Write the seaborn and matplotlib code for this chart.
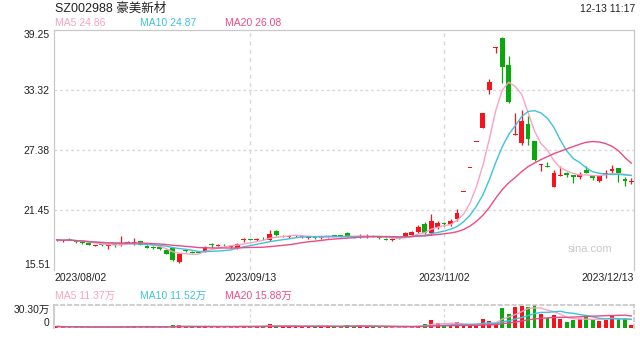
import matplotlib
matplotlib.use('Agg')
import matplotlib.pyplot as plt
import matplotlib.transforms as mtrans
import seaborn as sns
import numpy as np
import pandas as pd

# ---------------- data ----------------
opens = [18.45, 18.36, 18.56, 18.32, 18.26, 18.15, 17.93, 18.06, 17.88, 18.05,
         17.95, 18.25, 18.18, 18.35, 17.88, 17.78, 17.75, 17.50, 17.68, 16.35,
         17.42, 17.28, 17.28, 17.39, 18.02, 17.95, 18.00, 17.80, 17.65, 18.45,
         18.58, 18.50, 18.60, 18.45, 19.35, 18.85, 18.82, 18.85, 18.78, 18.70,
         18.70, 18.68, 18.78, 18.95, 18.92, 19.20, 18.82, 18.82, 18.83, 18.85,
         18.78, 18.57, 18.50, 18.68, 18.80, 18.97, 19.23, 20.02, 19.13, 19.72,
         20.20, 20.05, 20.52, 23.30, 25.63, 28.19, 29.60, 33.30, 37.52, 38.50,
         35.80, 28.90, 28.05, 30.00, 28.25, 25.95, 25.76, 23.75, 24.85, 25.12,
         24.86, 24.67, 25.40, 24.82, 24.36, 25.02, 25.33, 25.58, 24.50, 24.26]
highs = [18.55, 18.45, 18.68, 18.36, 18.30, 18.18, 18.02, 18.10, 17.98, 18.20,
         18.87, 18.40, 18.68, 18.40, 17.95, 17.85, 17.80, 17.55, 17.75, 17.20,
         17.50, 17.35, 17.35, 17.90, 18.20, 18.10, 18.05, 17.90, 18.20, 18.70,
         18.62, 18.70, 18.80, 19.50, 19.50, 19.00, 19.00, 18.98, 18.95, 18.85,
         18.80, 18.80, 18.90, 19.00, 19.00, 19.25, 18.90, 19.06, 19.10, 18.95,
         18.82, 18.65, 18.65, 18.72, 19.30, 19.40, 20.00, 20.30, 21.04, 20.40,
         20.30, 20.60, 21.50, 23.30, 25.63, 28.19, 31.01, 34.37, 37.52, 38.55,
         36.68, 31.00, 31.32, 30.70, 28.30, 25.98, 26.20, 25.45, 25.75, 25.23,
         24.90, 25.20, 25.80, 24.95, 24.92, 25.40, 25.86, 25.62, 24.74, 24.57]
lows = [18.40, 18.30, 18.45, 18.20, 18.12, 17.98, 17.90, 17.92, 17.62, 17.75,
        17.90, 18.15, 18.02, 17.98, 17.70, 17.60, 17.50, 17.10, 16.37, 16.24,
        17.30, 17.18, 17.20, 17.25, 17.65, 17.85, 17.90, 17.72, 17.60, 18.25,
        18.45, 18.40, 18.45, 18.40, 18.88, 18.75, 18.72, 18.75, 18.70, 18.60,
        18.55, 18.60, 18.70, 18.85, 18.82, 18.80, 18.72, 18.63, 18.63, 18.75,
        18.60, 18.45, 18.40, 18.55, 18.75, 18.90, 19.20, 19.10, 18.97, 19.60,
        19.90, 19.90, 20.40, 23.30, 25.63, 28.19, 29.55, 32.92, 37.00, 34.04,
        32.06, 28.85, 27.90, 27.90, 26.33, 25.30, 25.65, 23.70, 24.80, 24.74,
        24.15, 24.50, 25.12, 24.45, 24.25, 24.64, 25.07, 24.25, 23.85, 24.00]
closes = [18.50, 18.40, 18.52, 18.25, 18.20, 18.03, 17.98, 17.98, 17.92, 18.00,
          18.10, 18.30, 18.28, 18.02, 17.72, 17.65, 17.55, 17.13, 16.47, 17.10,
          17.38, 17.24, 17.25, 17.81, 17.96, 18.00, 17.96, 17.85, 18.10, 18.52,
          18.52, 18.56, 18.55, 19.12, 18.95, 18.90, 18.88, 18.90, 18.82, 18.74,
          18.66, 18.74, 18.82, 18.90, 18.87, 18.87, 18.80, 18.87, 18.88, 18.80,
          18.70, 18.53, 18.55, 18.62, 19.13, 19.30, 19.80, 19.13, 20.35, 20.12,
          20.05, 20.40, 21.18, 23.30, 25.63, 28.19, 31.01, 34.11, 37.52, 35.62,
          32.16, 28.95, 30.25, 28.50, 26.38, 25.96, 25.70, 25.12, 24.92, 24.86,
          24.68, 24.98, 25.15, 24.57, 24.84, 25.07, 25.52, 25.13, 24.31, 24.30]
# volume in 万
volumes = [2.0, 1.5, 1.6, 1.2, 1.3, 1.2, 1.0, 1.1, 1.3, 1.2,
           3.0, 1.8, 2.0, 1.5, 1.4, 1.3, 1.4, 1.6, 3.5, 3.4,
           2.0, 1.5, 1.3, 2.8, 1.6, 1.4, 1.3, 1.2, 3.0, 3.0,
           1.5, 2.0, 2.5, 4.8, 2.5, 2.0, 1.8, 2.0, 2.2, 3.0,
           2.2, 2.0, 1.8, 2.0, 1.6, 4.0, 1.8, 3.5, 2.0, 1.5,
           1.2, 1.3, 1.2, 1.5, 2.0, 2.0, 3.0, 5.5, 10.5, 6.0,
           4.0, 4.5, 8.0, 2.6, 3.0, 4.0, 12.0, 9.5, 6.0, 26.7,
           18.2, 27.9, 28.5, 27.3, 30.3, 18.2, 13.5, 17.6, 12.1, 8.1,
           9.9, 11.5, 16.8, 10.5, 9.7, 10.7, 16.8, 12.5, 12.5, 4.3]

tick_idx = [0, 30, 60, 89]
tick_labels = ['2023/08/02', '2023/09/13', '2023/11/02', '2023/12/13']
price_ticks = [15.51, 21.45, 27.38, 33.32, 39.25]
vol_ticks = [0, 30.30]
vol_tick_labels = ['0', '30.30万']
title = 'SZ002988 豪美新材'
stamp = '12-13 11:17'
ma_labels = ['MA5 24.86', 'MA10 24.87', 'MA20 26.08']
vol_ma_labels = ['MA5 11.37万', 'MA10 11.52万', 'MA20 15.88万']
ma_windows = [5, 10, 20]
watermark = 'sina.com'

# ---------------- style ----------------
sns.set_theme(style='white')
plt.rcParams['font.family'] = ['Liberation Sans', 'Noto Sans CJK SC', 'DejaVu Sans']

RED = '#f5141e'
GREEN = '#0aa80a'
MA_COLORS = ['#f9a3c4', '#3cc3df', '#ec4b86']
GRID = '#d8d8d8'
BORDER = '#c8c8c8'
TXT = '#222222'

W, H = 640, 360
fig = plt.figure(figsize=(W / 100, H / 100), dpi=100)

def px_rect(l, t, r, b):
    return [l / W, 1 - b / H, (r - l) / W, (b - t) / H]

ax = fig.add_axes(px_rect(54, 30, 634, 270))
axv = fig.add_axes(px_rect(54, 305, 634, 328))

df = pd.DataFrame({'o': opens, 'h': highs, 'l': lows, 'c': closes, 'v': volumes})
df['i'] = np.arange(len(df))
up = df['c'] >= df['o']
cols = np.where(up, RED, GREEN)

# ---- candles ----
ax.vlines(df['i'], df['l'], df['h'], colors=cols, linewidth=0.9, zorder=2)
body = (df['c'] - df['o']).abs()
bh = np.maximum(body, 0.09)
bottom = np.minimum(df['o'], df['c']) - (bh - body) / 2
ax.bar(df['i'], bh, bottom=bottom, width=0.74, color=cols, linewidth=0, zorder=3)

for w, colr in zip(ma_windows, MA_COLORS):
    ma = df['c'].rolling(w, min_periods=1).mean()
    sns.lineplot(x=df['i'], y=ma, color=colr, linewidth=1.0, ax=ax, zorder=4)

ax.set_xlim(-0.39, 89.4)
ax.set_ylim(price_ticks[0], price_ticks[-1])
ax.set_xlabel('')
ax.set_ylabel('')

for yv in price_ticks[1:-1]:
    ax.axhline(yv, color=GRID, linewidth=1.0, linestyle=(0, (2, 2)), zorder=1)
for xv in tick_idx[1:-1]:
    ax.axvline(xv, color=GRID, linewidth=1.0, linestyle=(0, (3, 3)), zorder=1)

ax.set_yticks(price_ticks)
ax.set_yticklabels([f'{v:.2f}' for v in price_ticks])
ylabs = ax.get_yticklabels()
ylabs[0].set_va('bottom')
ylabs[-1].set_va('top')
ax.tick_params(axis='y', length=0, pad=3, labelsize=7.5, labelcolor=TXT)

ax.set_xticks(tick_idx)
ax.set_xticklabels(tick_labels)
xl = ax.get_xticklabels()
xl[0].set_ha('left')
xl[-1].set_ha('right')
ax.tick_params(axis='x', length=0, pad=2, labelsize=7.5, labelcolor=TXT)
for lab, dx in ((xl[0], -2.0), (xl[-1], 2.0)):
    lab.set_transform(lab.get_transform() + mtrans.ScaledTranslation(dx / 100, 0, fig.dpi_scale_trans))

for s in ['top', 'left', 'right']:
    ax.spines[s].set_visible(True)
    ax.spines[s].set_color(BORDER)
    ax.spines[s].set_linewidth(0.9)
ax.spines['bottom'].set_visible(False)

ax.text((590 - 54) / 580, (270 - 249) / 240, watermark, transform=ax.transAxes,
        color='#c9c9c9', fontsize=8, ha='center', va='center', zorder=0)

# ---- volume ----
axv.bar(df['i'], df['v'], width=0.6, color=cols, linewidth=0, zorder=2)
for w, colr in zip(ma_windows, MA_COLORS):
    mv = df['v'].rolling(w, min_periods=1).mean()
    sns.lineplot(x=df['i'], y=mv, color=colr, linewidth=1.0, ax=axv, zorder=3)
axv.set_xlim(-0.39, 89.4)
axv.set_ylim(0, vol_ticks[-1])
axv.set_xlabel('')
axv.set_ylabel('')
axv.set_xticks([])
axv.set_yticks(vol_ticks)
axv.set_yticklabels(vol_tick_labels)
vl = axv.get_yticklabels()
vl[0].set_va('bottom')
vl[-1].set_va('top')
axv.tick_params(axis='y', length=0, pad=3, labelsize=7.5, labelcolor=TXT)
for xv in tick_idx[1:-1]:
    axv.axvline(xv, color=GRID, linewidth=1.0, linestyle=(0, (2, 2)), zorder=1)
axv.spines['top'].set_color(BORDER)
axv.spines['top'].set_linestyle((0, (2, 2)))
axv.spines['right'].set_color(BORDER)
axv.spines['right'].set_linestyle((0, (2, 2)))
axv.spines['left'].set_color(BORDER)
axv.spines['bottom'].set_visible(False)

# ---- header texts ----
def ftext(xp, yp, s, **kw):
    fig.text(xp / W, 1 - yp / H, s, va='center', **kw)

ftext(55, 9, title, fontsize=9, color=TXT, ha='left')
ftext(635, 9, stamp, fontsize=7.5, color=TXT, ha='right')
for xp, s, colr in zip([55, 140, 225], ma_labels, MA_COLORS):
    ftext(xp, 23, s, fontsize=7.5, color=colr, ha='left')
for xp, s, colr in zip([55, 140, 225], vol_ma_labels, MA_COLORS):
    ftext(xp, 296, s, fontsize=7.5, color=colr, ha='left')

fig.savefig('out.png', dpi=100)
